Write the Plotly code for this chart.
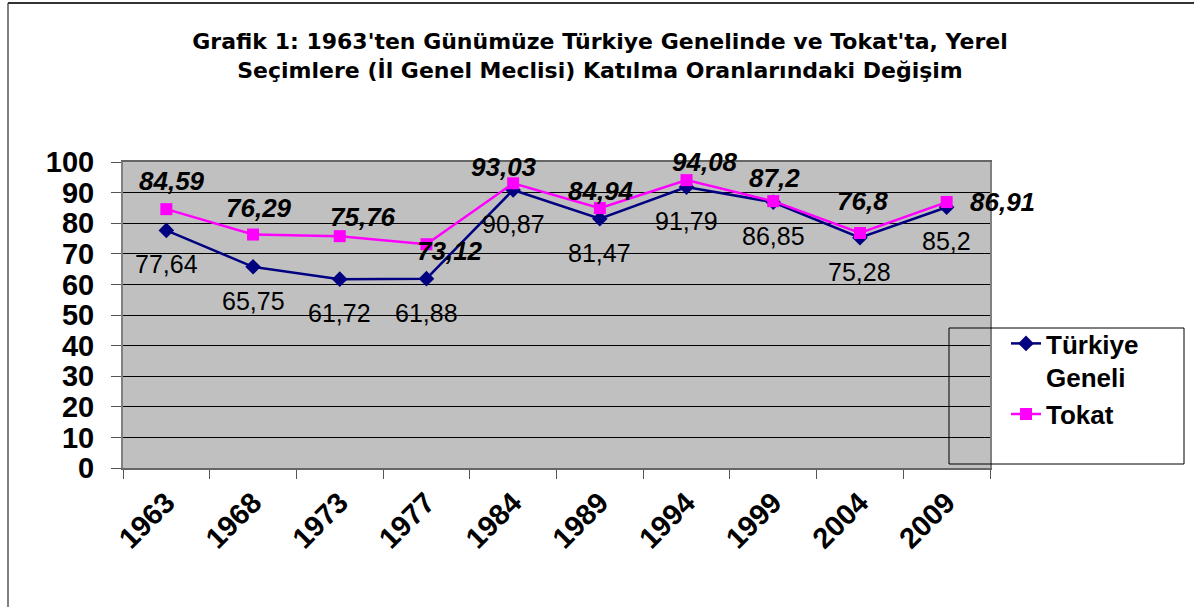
import plotly.graph_objects as go

years = ["1963", "1968", "1973", "1977", "1984", "1989", "1994", "1999", "2004", "2009"]
turkiye = [77.64, 65.75, 61.72, 61.88, 90.87, 81.47, 91.79, 86.85, 75.28, 85.2]
tokat = [84.59, 76.29, 75.76, 73.12, 93.03, 84.94, 94.08, 87.2, 76.8, 86.91]
y_ticks = [0, 10, 20, 30, 40, 50, 60, 70, 80, 90, 100]

title_text = ("<b>Grafik 1: 1963'ten Günümüze Türkiye Genelinde ve Tokat'ta, Yerel<br>"
              "Seçimlere (İl Genel Meclisi) Katılma Oranlarındaki Değişim</b>")

# label offsets (px) - styling only
tokat_dx = [6, 6, 23, 24, -9, 1, 18, 1, 3, 56]
tokat_dy = [28, 27, 19, -7, 16, 17, 18, 23, 32, 0]

W, H = 1194, 607
L, R, T, B = 123, 990, 162, 468
pw, ph = R - L, B - T


def px_x(x):
    return (x - L) / pw


def px_y(y):
    return (B - y) / ph


FONT = "Arial, Liberation Sans, sans-serif"
TFONT = "DejaVu Sans, Arial, sans-serif"

fig = go.Figure()
fig.add_trace(go.Scatter(
    x=years, y=turkiye, name="Türkiye<br>Geneli", mode="lines+markers",
    line=dict(color="#000080", width=2.5),
    marker=dict(symbol="diamond", size=12, color="#000080"),
))
fig.add_trace(go.Scatter(
    x=years, y=tokat, name="Tokat", mode="lines+markers",
    line=dict(color="#FF00FF", width=2.5),
    marker=dict(symbol="square", size=12, color="#FF00FF"),
))

fmt = lambda v: f"{v:g}".replace(".", ",")

annotations = []
for i, v in enumerate(turkiye):
    annotations.append(dict(x=i, y=v, xref="x", yref="y", text=fmt(v), showarrow=False,
                            xshift=0, yshift=-34,
                            font=dict(family=FONT, size=25, color="black")))
for i, v in enumerate(tokat):
    annotations.append(dict(x=i, y=v, xref="x", yref="y", text=f"<b><i>{fmt(v)}</i></b>",
                            showarrow=False, xshift=tokat_dx[i], yshift=tokat_dy[i],
                            font=dict(family=FONT, size=26, color="black")))

shapes = [
    # outer chart border (left and top visible)
    dict(type="line", xref="paper", yref="paper",
         x0=px_x(8), x1=px_x(8), y0=px_y(3), y1=px_y(H + 50),
         line=dict(color="#808080", width=2)),
    dict(type="line", xref="paper", yref="paper",
         x0=px_x(8), x1=px_x(W + 50), y0=px_y(3), y1=px_y(3),
         line=dict(color="#333333", width=2)),
    # legend box
    dict(type="rect", xref="paper", yref="paper",
         x0=px_x(949), x1=px_x(1184), y0=px_y(464), y1=px_y(328),
         line=dict(color="black", width=1), fillcolor="rgba(0,0,0,0)"),
]

fig.update_layout(
    width=W, height=H,
    margin=dict(l=L, r=W - R, t=T, b=H - B),
    paper_bgcolor="white",
    plot_bgcolor="#C0C0C0",
    title=dict(text=title_text, x=600 / W, xanchor="center", y=1 - 49 / H, yanchor="middle",
               font=dict(family=TFONT, size=22, color="black")),
    font=dict(family=FONT, color="black"),
    showlegend=True,
    legend=dict(x=px_x(1006), y=px_y(320), xanchor="left", yanchor="top",
                bgcolor="rgba(0,0,0,0)", borderwidth=0, valign="top",
                font=dict(family=FONT, size=26, color="black", weight="bold"),
                tracegroupgap=0),
    annotations=annotations,
    shapes=shapes,
)

fig.update_xaxes(
    type="category", categoryorder="array", categoryarray=years,
    range=[-0.5, len(years) - 0.5],
    tickmode="array", tickvals=years, ticktext=[f"<b>{y}</b>" for y in years],
    tickangle=-45, tickson="boundaries",
    ticks="outside", ticklen=9, tickcolor="#555555", tickwidth=1,
    tickfont=dict(family=FONT, size=29, color="black"),
    ticklabelstandoff=4,
    showgrid=False, showline=True, linecolor="#666666", linewidth=2, mirror=True,
    zeroline=False,
)
fig.update_yaxes(
    range=[0, 100], tickmode="array", tickvals=y_ticks,
    ticktext=[f"<b>{t}</b>" for t in y_ticks],
    ticks="outside", ticklen=10, tickcolor="#555555", tickwidth=1,
    tickfont=dict(family=FONT, size=29, color="black"),
    ticklabelstandoff=11,
    showgrid=True, gridcolor="black", gridwidth=1,
    showline=True, linecolor="#808080", linewidth=2, mirror=True,
    zeroline=False,
)

fig.write_html("out.html", config={"displayModeBar": False},
               post_script="document.body.style.margin='0';")
